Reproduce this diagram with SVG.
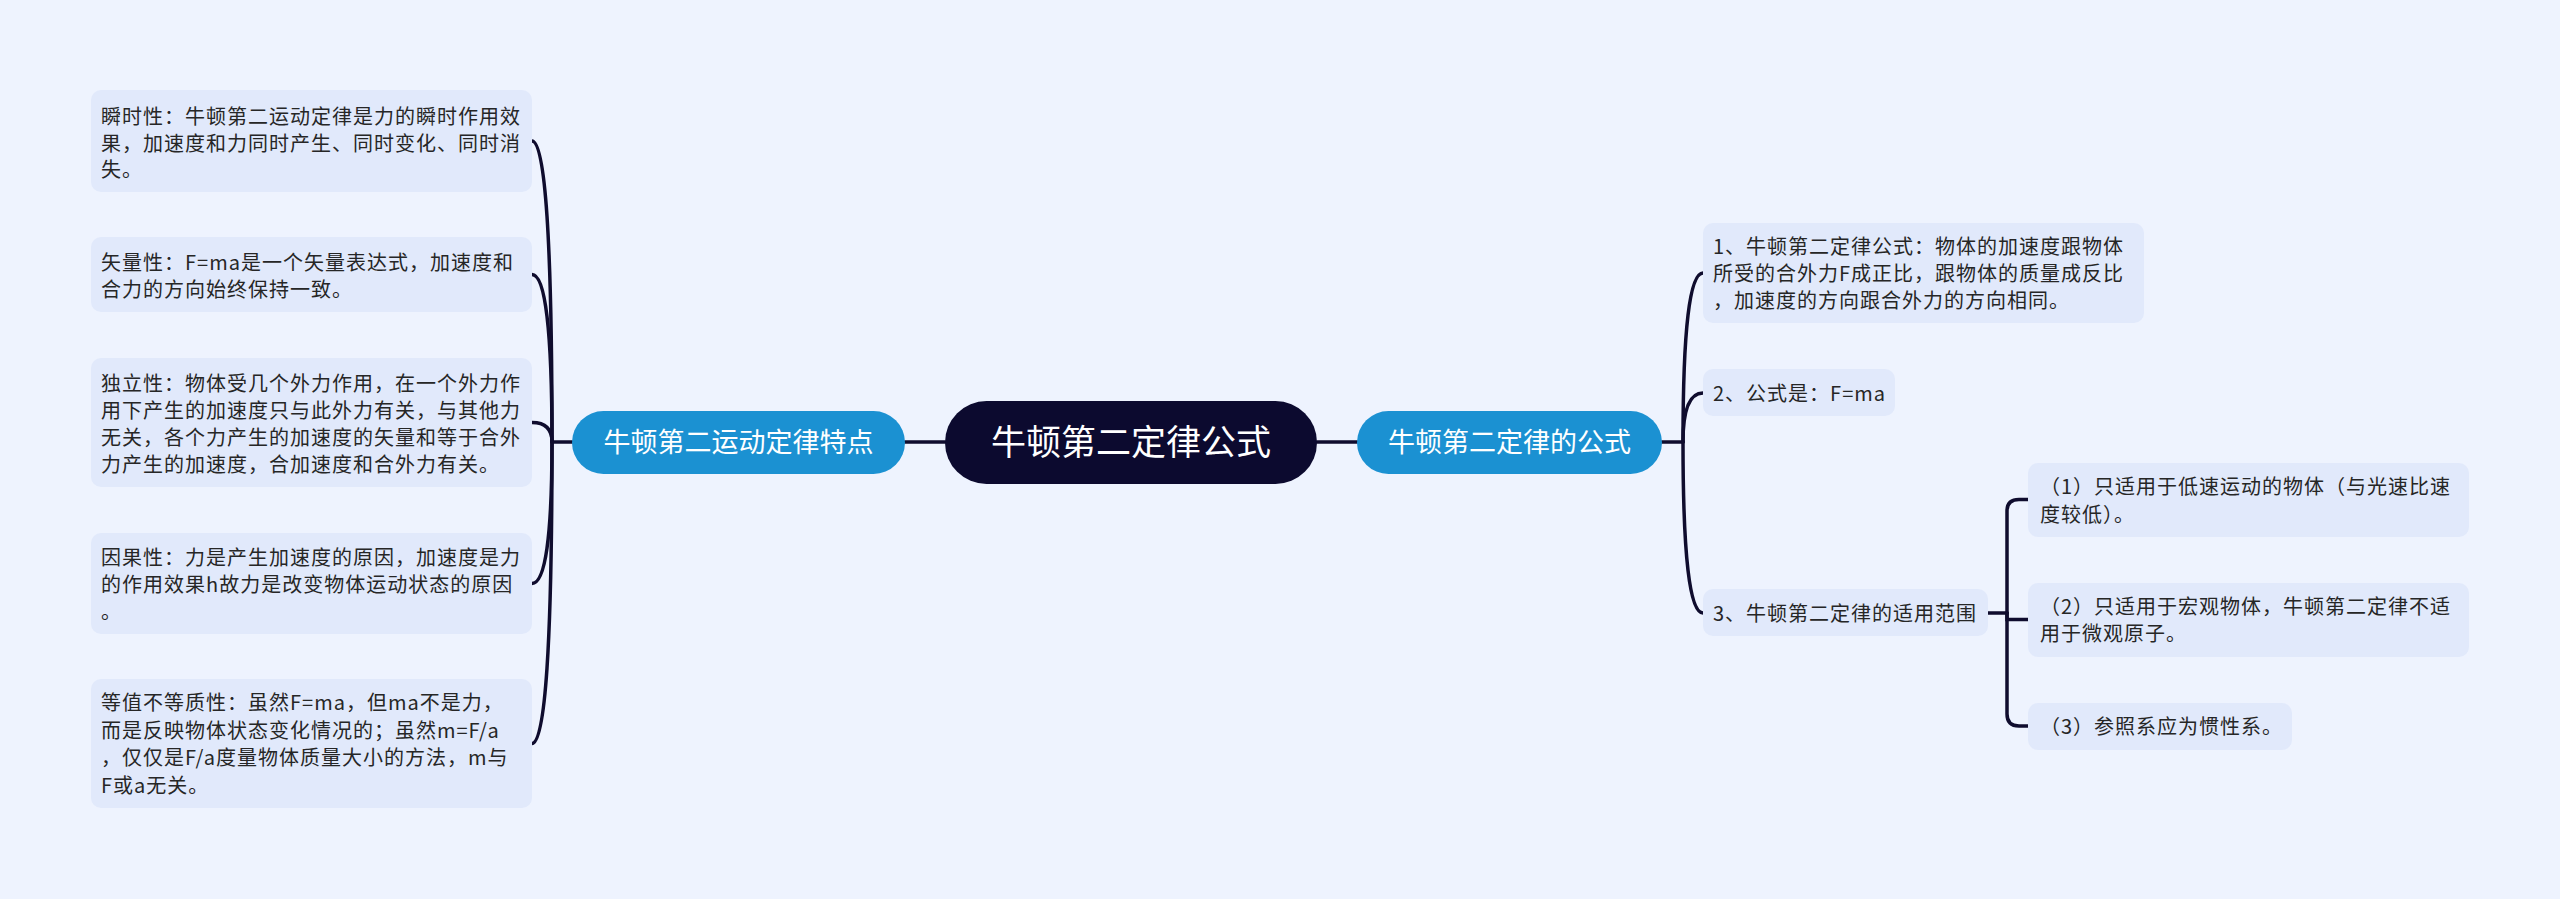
<svg xmlns="http://www.w3.org/2000/svg" width="2560" height="899" viewBox="0 0 2560 899">
<style>
.bg{fill:#eef3fe}
.box{fill:#e1e9fb}
.t{font-family:"Noto Sans CJK SC","Liberation Sans",sans-serif;font-size:20px;letter-spacing:1px;fill:#262626}
.blue{fill:#1b91d2}
.bt{font-family:"Noto Sans CJK SC","Liberation Sans",sans-serif;font-size:27px;fill:#ffffff;text-anchor:middle}
.root{fill:#0c0a2f}
.rt{font-family:"Noto Sans CJK SC","Liberation Sans",sans-serif;font-size:35px;fill:#ffffff;text-anchor:middle}
.ln{fill:none;stroke:#0f0c2e;stroke-width:3.5;stroke-linecap:round}
</style>
<rect class="bg" x="0" y="0" width="2560" height="899"/>
<g id="connectors">
<path class="ln" d="M905 442 H945"/>
<path class="ln" d="M1317 442 H1357"/>
<path class="ln" d="M572 442 H552"/>
<path class="ln" d="M552 442 Q552 141 532 141"/>
<path class="ln" d="M552 442 Q552 274.5 532 274.5"/>
<path class="ln" d="M552 442 Q552 422.5 532 422.5"/>
<path class="ln" d="M552 442 Q552 583.5 532 583.5"/>
<path class="ln" d="M552 442 Q552 743.5 532 743.5"/>
<path class="ln" d="M1662 442 H1683"/>
<path class="ln" d="M1683 442 Q1683 273 1703 273"/>
<path class="ln" d="M1683 442 Q1683 393 1703 393"/>
<path class="ln" d="M1683 442 Q1683 613 1703 613"/>
<path class="ln" d="M1988 613 H2007"/>
<path class="ln" d="M2007 613 V511 Q2007 499.5 2019 499.5 H2028"/>
<path class="ln" d="M2007 613 V619.5 H2028"/>
<path class="ln" d="M2007 613 V714 Q2007 726 2019 726 H2028"/>
</g>
<g id="root">
<rect class="root" x="945" y="401" width="372" height="83" rx="41.5"/>
<text class="rt" x="1131" y="455">牛顿第二定律公式</text>
</g>
<g id="left-main">
<rect class="blue" x="572" y="411" width="333" height="63" rx="31.5"/>
<text class="bt" x="738.5" y="451.5">牛顿第二运动定律特点</text>
</g>
<g id="right-main">
<rect class="blue" x="1357" y="411" width="305" height="63" rx="31.5"/>
<text class="bt" x="1509.5" y="451.5">牛顿第二定律的公式</text>
</g>
<g id="l1">
<rect class="box" x="91" y="90" width="441" height="102" rx="10"/>
<text class="t" x="101" y="124"><tspan x="101">瞬时性：牛顿第二运动定律是力的瞬时作用效</tspan><tspan x="101" dy="26.5">果，加速度和力同时产生、同时变化、同时消</tspan><tspan x="101" dy="26.5">失。</tspan></text>
</g>
<g id="l2">
<rect class="box" x="91" y="237" width="441" height="75" rx="10"/>
<text class="t" x="101" y="270"><tspan x="101">矢量性：F=ma是一个矢量表达式，加速度和</tspan><tspan x="101" dy="27">合力的方向始终保持一致。</tspan></text>
</g>
<g id="l3">
<rect class="box" x="91" y="358" width="441" height="129" rx="10"/>
<text class="t" x="101" y="391"><tspan x="101">独立性：物体受几个外力作用，在一个外力作</tspan><tspan x="101" dy="27">用下产生的加速度只与此外力有关，与其他力</tspan><tspan x="101" dy="27">无关，各个力产生的加速度的矢量和等于合外</tspan><tspan x="101" dy="27">力产生的加速度，合加速度和合外力有关。</tspan></text>
</g>
<g id="l4">
<rect class="box" x="91" y="533" width="441" height="101" rx="10"/>
<text class="t" x="101" y="565"><tspan x="101">因果性：力是产生加速度的原因，加速度是力</tspan><tspan x="101" dy="27">的作用效果h故力是改变物体运动状态的原因</tspan><tspan x="101" dy="27">。</tspan></text>
</g>
<g id="l5">
<rect class="box" x="91" y="679" width="441" height="129" rx="10"/>
<text class="t" x="101" y="710"><tspan x="101">等值不等质性：虽然F=ma，但ma不是力，</tspan><tspan x="101" dy="27.5">而是反映物体状态变化情况的；虽然m=F/a</tspan><tspan x="101" dy="27.5">，仅仅是F/a度量物体质量大小的方法，m与</tspan><tspan x="101" dy="27.5">F或a无关。</tspan></text>
</g>
<g id="r1">
<rect class="box" x="1703" y="223" width="441" height="100" rx="10"/>
<text class="t" x="1713" y="254"><tspan x="1713">1、牛顿第二定律公式：物体的加速度跟物体</tspan><tspan x="1713" dy="27">所受的合外力F成正比，跟物体的质量成反比</tspan><tspan x="1713" dy="27">，加速度的方向跟合外力的方向相同。</tspan></text>
</g>
<g id="r2">
<rect class="box" x="1703" y="369" width="192" height="47" rx="10"/>
<text class="t" x="1713" y="401">2、公式是：F=ma</text>
</g>
<g id="r3">
<rect class="box" x="1703" y="589" width="285" height="47" rx="10"/>
<text class="t" x="1713" y="620.5">3、牛顿第二定律的适用范围</text>
</g>
<g id="c1">
<rect class="box" x="2028" y="463" width="441" height="74" rx="10"/>
<text class="t" x="2040" y="494"><tspan x="2040">（1）只适用于低速运动的物体（与光速比速</tspan><tspan x="2040" dy="27.5">度较低）。</tspan></text>
</g>
<g id="c2">
<rect class="box" x="2028" y="583" width="441" height="74" rx="10"/>
<text class="t" x="2040" y="614"><tspan x="2040">（2）只适用于宏观物体，牛顿第二定律不适</tspan><tspan x="2040" dy="27">用于微观原子。</tspan></text>
</g>
<g id="c3">
<rect class="box" x="2028" y="703" width="264" height="47" rx="10"/>
<text class="t" x="2040" y="734">（3）参照系应为惯性系。</text>
</g>
</svg>
